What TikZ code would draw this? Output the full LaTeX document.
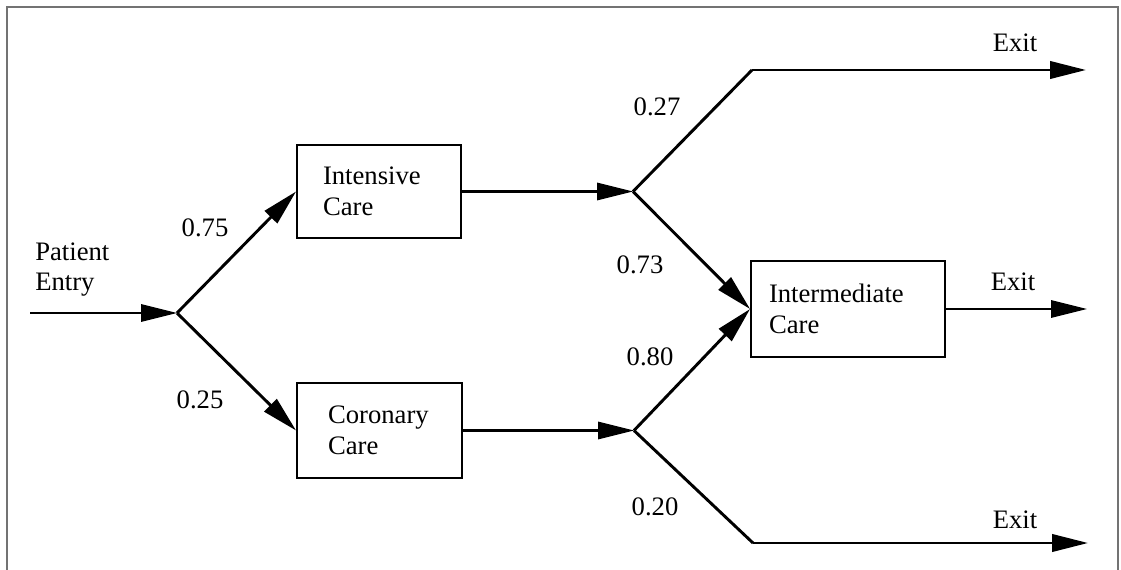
\documentclass[tikz,border=0pt]{standalone}
\usepackage{fontspec}
\setmainfont{Liberation Serif}
\usetikzlibrary{arrows.meta}

\begin{document}
\begin{tikzpicture}[x=0.75pt, y=-0.75pt,
    font=\fontsize{20}{23.5}\selectfont,
    unitbox/.style={draw, line width=1.4pt, rectangle, align=left, inner ysep=0pt},
    flow/.style={line width=1.6pt, -{Triangle[length=27pt, width=13pt]}},
    branch/.style={line width=2.2pt, line join=round, -{Triangle[length=27pt, width=13pt]}},
    plain/.style={line width=2.2pt, line join=round},
    prob/.style={inner sep=0pt}]
    \useasboundingbox (0,0) rectangle (1121,570);
    % Page frame
    \draw[black!55, line width=0.8pt] (7,590) -- (7,7) -- (1118,7) -- (1118,590);

    % Care units
    \node[unitbox, minimum width=123pt, minimum height=69.75pt, text width=84pt, inner xsep=19.5pt] (icu)
        at (379,191.5) {Intensive\\Care};
    \node[unitbox, minimum width=123.75pt, minimum height=71.25pt, text width=77.25pt, inner xsep=23.25pt] (ccu)
        at (379.5,430.5) {Coronary\\Care};
    \node[unitbox, minimum width=145.5pt, minimum height=72pt, text width=118.5pt, inner xsep=13.5pt] (imc)
        at (848,309) {Intermediate\\Care};

    % Entry, junctions and exits
    \node[align=left, anchor=west, inner sep=0pt, font=\fontsize{20}{22.5}\selectfont] (entrytext)
        at (35,270) {Patient\\Entry};
    \coordinate (entry) at (30,313);
    \coordinate (j1) at (177,313);
    \coordinate (j2) at (633,191.5);
    \coordinate (j3) at (634,430.5);
    \coordinate (up) at (752,70);
    \coordinate (down) at (753,543);
    \coordinate (out1) at (1086,70);
    \coordinate (out2) at (1087,309);
    \coordinate (out3) at (1088,543);

    % Connectors
    \draw[flow] (entry) -- (j1);
    \draw[branch] (j1) -- (icu.west);
    \draw[branch] (j1) -- (ccu.west);
    \draw[flow] (icu.east) -- (j2);
    \draw[flow] (ccu.east) -- (j3);
    \draw[plain] (j2) -- (up);
    \draw[branch] (up) -- (out1);
    \draw[branch] (j2) -- (imc.west);
    \draw[branch] (j3) -- (imc.west);
    \draw[plain] (j3) -- (down);
    \draw[branch] (down) -- (out3);
    \draw[flow] (imc.east) -- (out2);

    % Transition probabilities
    \node[prob] (p75) at (205,228) {0.75};
    \node[prob] (p25) at (200,400) {0.25};
    \node[prob] (p27) at (657,107) {0.27};
    \node[prob] (p73) at (640,265) {0.73};
    \node[prob] (p80) at (650,357) {0.80};
    \node[prob] (p20) at (655,507) {0.20};

    % Exit labels
    \node[prob] (x1) at (1015,43) {Exit};
    \node[prob] (x2) at (1013,282) {Exit};
    \node[prob] (x3) at (1015,520) {Exit};
\end{tikzpicture}
\end{document}
